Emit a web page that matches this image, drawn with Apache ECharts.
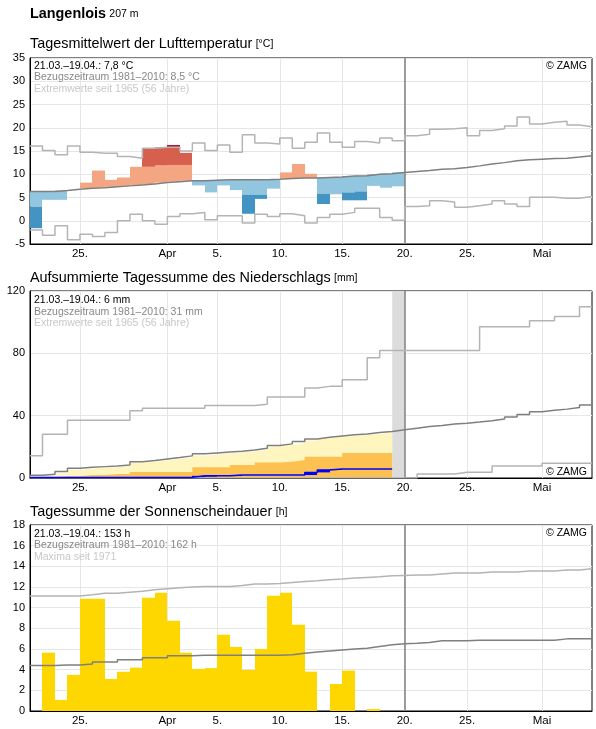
<!DOCTYPE html>
<html>
<head>
<meta charset="utf-8">
<script src="https://cdn.jsdelivr.net/npm/echarts@6/dist/echarts.min.js"></script>
<style>
html,body{margin:0;padding:0;background:#fff;}
#main{width:596px;height:729px;}
</style>
</head>
<body>
<div id="main"></div>
<script>
// day 0 = 21.03., day 44 = 04.05.
var tickDays = [4, 11, 15, 20, 25, 30, 35, 41];
var tickLabels = ['25.', 'Apr', '5.', '10.', '15.', '20.', '25.', 'Mai'];

// Lufttemperatur
var tempDay = [-1.6,4.5,4.5,6.8,8.2,10.8,8.8,9.3,11.6,15.6,15.8,16.3,14.6,7.6,6.1,7.6,6.6,1.5,4.7,6.9,
  10.4,12.2,10.1,3.6,5.7,4.4,4.4,7.5,7.1,7.4];
var tempMean = [6.3,6.3,6.5,6.8,7.0,7.1,7.3,7.5,7.7,7.9,8.2,8.4,8.6,8.6,8.7,8.8,8.8,8.8,8.8,8.9,
  9.1,9.2,9.2,9.3,9.4,9.6,9.7,10.0,10.1,10.4,10.6,10.8,11.1,11.2,11.45,11.8,12.2,12.5,12.9,13.1,
  13.25,13.4,13.45,13.7,14.0];
var tempHigh = [10.0,10.0,10.2,10.5,10.7,11.0,11.0,11.2,11.7,11.6,11.9,12.0,12.0,12.2,12.3,12.4,12.4,12.4,12.4,12.5,
  12.7,12.8,12.9,13.0,13.1,13.3,13.4,13.7,13.8,14.1];
var tempLow = [3.0,3.0,3.2,3.5,3.7,3.8,4.0,4.2,4.4,4.6,4.9,5.1,5.3,5.3,5.4,5.5,5.5,5.6,5.6,5.7,
  5.9,6.0,6.0,5.8,5.5,6.1,6.3,6.6,6.7,7.0];
var tempMax = [16.1,15.1,14.2,16.1,14.75,14.5,14.5,13.8,13.45,15.6,15.8,15.8,15.0,16.7,15.1,16.3,14.75,18.5,16.7,16.5,
  17.8,15.6,16.9,18.85,16.9,15.8,17.05,16.7,17.8,17.2,18.3,18.6,19.7,19.8,20.0,18.3,19.4,19.8,20.35,22.3,
  20.8,21.2,21.4,20.6,20.2];
var tempMin = [-2.0,-3.1,-1.05,-4.1,-2.9,-3.4,-2.5,0.0,1.4,0.0,-0.75,0.9,1.5,1.8,0.2,1.1,1.1,-0.5,1.4,0.9,
  1.5,1.1,-0.5,0.7,1.4,1.8,2.7,2.7,0.7,0.1,3.05,3.25,4.3,4.05,2.9,3.25,3.6,4.3,3.6,3.05,
  5.05,5.05,4.85,4.85,5.2];

// Niederschlag (aufsummiert)
var precSum = [0.4,0.4,0.4,0.4,0.4,0.4,0.4,0.4,0.4,0.4,0.4,0.4,0.4,1.4,1.5,1.5,1.9,1.9,1.9,1.9,
  1.9,1.9,3.6,5.2,5.8,5.8,5.8,5.8,5.8];
var precLight = [1.1,1.7,3.0,5.2,6.0,6.7,6.9,7.7,9.9,10.5,11.4,12.2,13.1,14.4,15.0,15.9,16.3,17.2,18.0,20.2,
  21.3,22.3,24.0,25.5,26.4,27.0,27.7,28.3,29.2];
var precDark = [0.6,0.6,1.1,1.1,1.9,1.9,2.6,2.6,3.9,3.9,3.9,3.9,3.9,6.9,6.9,6.9,8.4,8.4,9.9,9.9,
  10.5,11.6,13.7,13.7,13.7,16.1,16.1,16.1,16.1];
var precMean = [1.7,2.4,4.1,6.2,6.9,7.3,7.7,8.4,10.5,11.2,12.2,13.1,14.2,15.5,16.1,16.7,17.2,18.0,19.1,20.8,
  21.9,23.4,25.1,26.2,27.0,27.7,28.3,29.2,29.8,30.9,32.0,33.1,33.7,34.6,35.2,35.9,36.7,37.8,39.1,40.8,
  42.5,43.4,44.2,45.3,46.8];
var precMax = [14.2,28.1,28.1,37.1,37.1,37.1,37.1,37.1,43.2,44.7,44.7,44.7,44.7,44.7,46.5,46.5,46.5,46.5,47.3,52.0,
  52.0,52.0,57.7,58.8,58.8,63.1,63.1,77.1,81.8,81.8,81.8,81.8,81.8,81.8,81.8,81.8,97.0,97.0,97.0,97.0,
  100.9,100.9,103.7,103.7,109.9];
var precMin = [0,0,0,0,0,0,0,0,0,0,0,0,0,0,0,0,0,0,0,0,
  0,0,0,0,0,0,0,0,0,0,0,2.6,2.6,2.6,3.7,3.7,3.7,7.7,7.7,7.7,
  7.7,9.4,9.4,9.4,9.4];

// Sonnenscheindauer
var sunDay = [0,5.65,1.07,3.5,10.86,10.86,3.1,3.8,4.2,10.96,11.44,8.73,5.65,4.07,4.15,7.37,6.2,3.98,6.0,11.15,
  11.44,8.34,3.81,0,2.62,3.91,0,0.19,0];
var sunMean = [4.4,4.4,4.45,4.45,4.55,4.75,4.75,4.95,4.95,5.15,5.15,5.35,5.35,5.4,5.4,5.4,5.4,5.4,5.4,5.4,
  5.45,5.6,5.7,5.8,5.9,6.0,6.08,6.24,6.4,6.5,6.56,6.63,6.8,6.8,6.8,6.85,6.85,6.85,6.85,6.85,
  6.85,6.85,6.98,6.98,6.98];
var sunMax = [11.12,11.12,11.12,11.12,11.25,11.4,11.4,11.5,11.6,11.73,11.83,11.93,12.0,12.06,12.06,12.06,12.15,12.28,12.28,12.35,
  12.44,12.54,12.6,12.7,12.77,12.86,12.93,13.0,13.09,13.12,13.15,13.15,13.25,13.35,13.35,13.35,13.45,13.45,13.45,13.54,
  13.54,13.54,13.64,13.64,13.77];

var textsTemp = ['21.03.–19.04.: 7,8 °C', 'Bezugszeitraum 1981–2010: 8,5 °C', 'Extremwerte seit 1965 (56 Jahre)'];
var textsPrec = ['21.03.–19.04.: 6 mm', 'Bezugszeitraum 1981–2010: 31 mm', 'Extremwerte seit 1965 (56 Jahre)'];
var textsSun = ['21.03.–19.04.: 153 h', 'Bezugszeitraum 1981–2010: 162 h', 'Maxima seit 1971'];

var palette = ['#f4a582', '#d6604d', '#b2182b', '#92c5de', '#4393c3', '#2166ac', '#0000ff', '#ffd700'];
var FONT = '"Liberation Sans", Arial, sans-serif';

var tempSegs = [];
for (var i = 0; i < tempDay.length; i++) {
  var t = tempDay[i], m = tempMean[i];
  if (t > m) {
    tempSegs.push([i, m, Math.min(t, tempHigh[i]), 0]);
    if (t > tempHigh[i]) tempSegs.push([i, tempHigh[i], Math.min(t, tempMax[i]), 1]);
    if (t > tempMax[i]) tempSegs.push([i, tempMax[i], t, 2]);
  } else if (t < m) {
    tempSegs.push([i, Math.max(t, tempLow[i]), m, 3]);
    if (t < tempLow[i]) tempSegs.push([i, Math.max(t, tempMin[i]), tempLow[i], 4]);
    if (t < tempMin[i]) tempSegs.push([i, t, tempMin[i], 5]);
  }
}
var precSegs = [];
for (var i = 0; i < precSum.length; i++) {
  var prev = i > 0 ? precSum[i - 1] : 0;
  if (precSum[i] > prev) precSegs.push([i, prev, precSum[i], 6]);
}
var sunSegs = [];
for (var i = 0; i < sunDay.length; i++) {
  if (sunDay[i] > 0) sunSegs.push([i, 0, sunDay[i], 7]);
}

function stepData(arr) {
  var out = [];
  for (var i = 0; i < arr.length; i++) out.push([i, arr[i]]);
  out.push([arr.length, arr[arr.length - 1]]);
  return out;
}

function stepLine(arr, color, width, idx) {
  return {
    type: 'line', step: 'end', xAxisIndex: idx, yAxisIndex: idx,
    data: stepData(arr), symbol: 'none', silent: true, z: 5,
    lineStyle: { color: color, width: width }
  };
}

function renderRect(params, api) {
  var p0 = api.coord([api.value(0), api.value(1)]);
  var p1 = api.coord([api.value(0) + 1, api.value(2)]);
  var x0 = Math.round(p0[0]), x1 = Math.round(p1[0]);
  var y0 = Math.min(p0[1], p1[1]), y1 = Math.max(p0[1], p1[1]);
  return {
    type: 'rect',
    shape: { x: x0, y: y0, width: x1 - x0, height: Math.max(y1 - y0, 1) },
    style: { fill: palette[api.value(3)] }
  };
}

function rectSeries(segs, idx) {
  return {
    type: 'custom', xAxisIndex: idx, yAxisIndex: idx, data: segs,
    renderItem: renderRect, silent: true, z: 2, clip: true
  };
}

function areaStep(arr, color, idx, extra) {
  var s = {
    type: 'line', step: 'end', xAxisIndex: idx, yAxisIndex: idx,
    data: stepData(arr), symbol: 'none', silent: true, z: 1,
    lineStyle: { width: 0, opacity: 0 },
    areaStyle: { color: color, opacity: 1 }
  };
  if (extra) for (var k in extra) s[k] = extra[k];
  return s;
}

var nowLine = {
  silent: true, symbol: ['none', 'none'], label: { show: false },
  lineStyle: { color: '#7f7f7f', width: 1.5, type: 'solid' },
  data: [{ xAxis: 30 }]
};

function xAxis(idx) {
  return {
    type: 'value', gridIndex: idx, min: 0, max: 45,
    axisLine: { show: true, onZero: false, lineStyle: { color: '#000', width: 1 } },
    axisTick: { show: false, customValues: tickDays },
    axisLabel: {
      customValues: tickDays, color: '#000', fontSize: 11.5, margin: 4, fontFamily: FONT,
      formatter: function (v) { return tickLabels[tickDays.indexOf(v)]; }
    },
    splitLine: { show: true, lineStyle: { color: '#e6e6e6', width: 1 } }
  };
}

function yAxis(idx, min, max, interval) {
  return {
    type: 'value', gridIndex: idx, min: min, max: max, interval: interval,
    axisLine: { show: true, lineStyle: { color: '#000', width: 1 } },
    axisTick: { show: false },
    axisLabel: { color: '#000', fontSize: 11, margin: 5, fontFamily: FONT },
    splitLine: { show: true, lineStyle: { color: '#e6e6e6', width: 1 } }
  };
}

function txt(x, y, s, size, color, align, bold) {
  return {
    type: 'text', x: x, y: y, silent: true, z: 100,
    style: {
      text: s, fill: color, align: align || 'left', textAlign: align || 'left',
      verticalAlign: 'middle', textVerticalAlign: 'middle',
      font: (bold ? 'bold ' : '') + size + 'px ' + FONT
    }
  };
}

// title with a smaller unit after it
function titleTxt(y, main, unit, bold) {
  return {
    type: 'text', x: 30, y: y, silent: true, z: 100,
    style: {
      text: '{a|' + main + '} {b|' + unit + '}',
      verticalAlign: 'bottom', textVerticalAlign: 'bottom',
      rich: {
        a: { fontSize: 14.4, fontWeight: bold ? 'bold' : 'normal', fontFamily: FONT, fill: '#000', color: '#000' },
        b: { fontSize: 10.5, fontFamily: FONT, fill: '#000', color: '#000' }
      }
    }
  };
}

function infoTexts(list, y0) {
  var cols = ['#000', '#888', '#c8c8c8'];
  return list.map(function (s, k) { return txt(34, y0 + k * 11.5, s, 10.5, cols[k]); });
}

var graphics = [
  titleTxt(21.5, 'Langenlois', '207 m', true),
  titleTxt(51.5, 'Tagesmittelwert der Lufttemperatur', '[°C]'),
  titleTxt(285.5, 'Aufsummierte Tagessumme des Niederschlags', '[mm]'),
  titleTxt(519.2, 'Tagessumme der Sonnenscheindauer', '[h]'),
  txt(587, 66, '© ZAMG', 10.5, '#000', 'right'),
  txt(587, 472.5, '© ZAMG', 10.5, '#000', 'right'),
  txt(587, 533, '© ZAMG', 10.5, '#000', 'right')
].concat(infoTexts(textsTemp, 66), infoTexts(textsPrec, 300.5), infoTexts(textsSun, 534));

var gridBase = { left: 30, right: 4, show: true, borderColor: '#000', borderWidth: 1, backgroundColor: 'transparent' };
function grid(top, height) {
  var g = { top: top, height: height };
  for (var k in gridBase) g[k] = gridBase[k];
  return g;
}

var chart = echarts.init(document.getElementById('main'));
chart.setOption({
  animation: false,
  backgroundColor: '#fff',
  grid: [grid(58, 186), grid(291, 187), grid(525, 186)],
  xAxis: [xAxis(0), xAxis(1), xAxis(2)],
  yAxis: [yAxis(0, -5, 35, 5), yAxis(1, 0, 120, 40), yAxis(2, 0, 18, 2)],
  graphic: graphics,
  series: [
    // temperature
    rectSeries(tempSegs, 0),
    stepLine(tempMax, '#b4b4b4', 1.5, 0),
    stepLine(tempMin, '#b4b4b4', 1.5, 0),
    (function () { var s = stepLine(tempMean, '#7f7f7f', 1.5, 0); s.markLine = nowLine; return s; })(),
    // precipitation
    areaStep(precLight, '#fff5bf', 1, {
      markArea: { silent: true, itemStyle: { color: '#dcdcdc' }, data: [[{ xAxis: 29 }, { xAxis: 30 }]] }
    }),
    areaStep(precDark, '#fdc152', 1),
    stepLine(precMax, '#b4b4b4', 1.5, 1),
    stepLine(precMin, '#b4b4b4', 1.5, 1),
    (function () { var s = stepLine(precMean, '#7f7f7f', 1.5, 1); s.markLine = nowLine; return s; })(),
    rectSeries(precSegs, 1),
    (function () { var s = stepLine(precSum, '#0000ff', 1.5, 1); s.z = 6; return s; })(),
    // sunshine
    rectSeries(sunSegs, 2),
    stepLine(sunMax, '#b4b4b4', 1.5, 2),
    (function () { var s = stepLine(sunMean, '#7f7f7f', 1.5, 2); s.markLine = nowLine; return s; })()
  ]
});
</script>
</body>
</html>
